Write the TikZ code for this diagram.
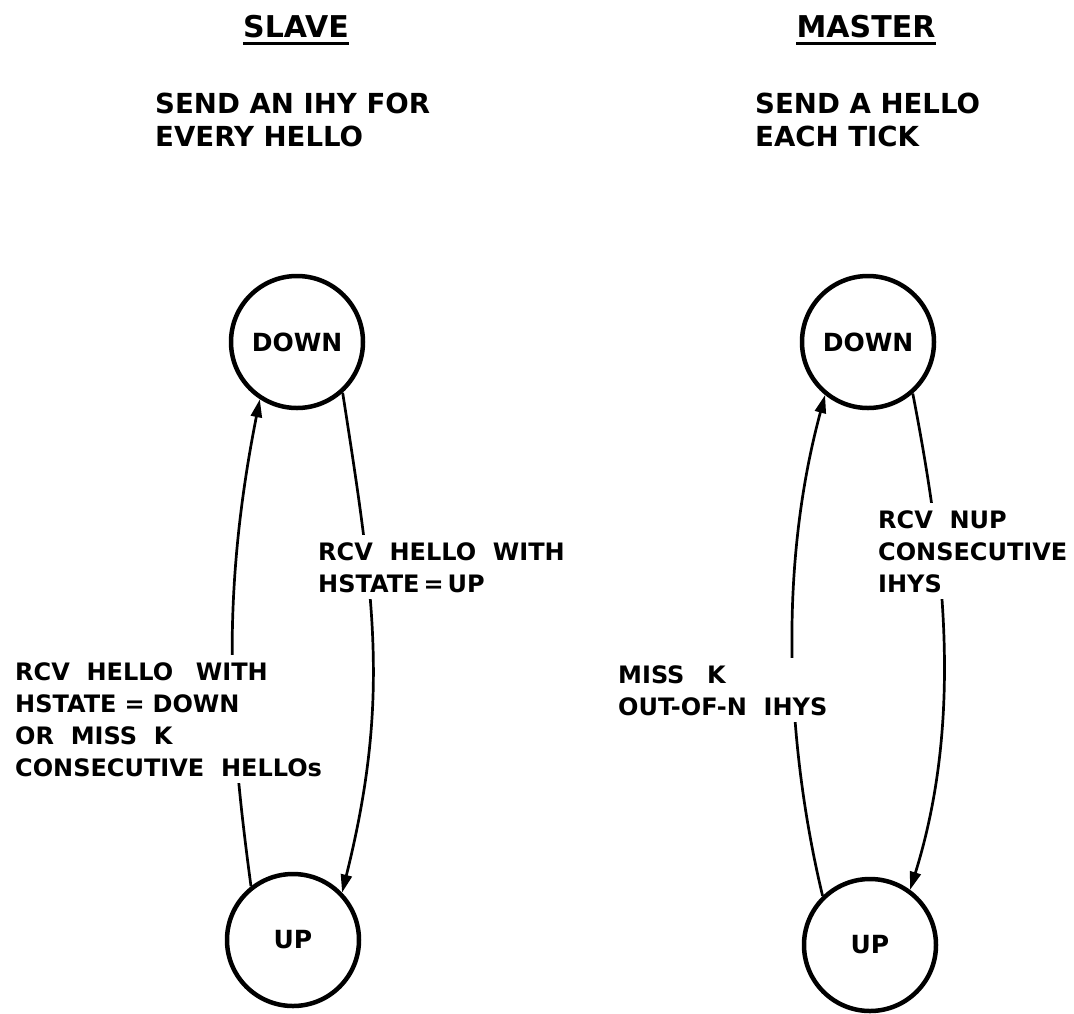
\documentclass[tikz,border=0pt]{standalone}
\usepackage{fontspec}
\setmainfont{DejaVu Sans}
\newfontfamily\labfont[WordSpace=2.0]{DejaVu Sans}
\usetikzlibrary{arrows.meta}
\begin{document}
\begin{tikzpicture}[x=1pt,y=-1pt,
  state/.style={circle,draw,line width=4.5pt,minimum size=132pt,inner sep=0pt,font=\fontsize{25}{30}\selectfont\bfseries},
  lbl/.style={anchor=north west,align=left,fill=white,inner sep=7pt,font=\labfont\fontsize{24}{32}\selectfont\bfseries},
  desc/.style={anchor=north west,align=left,inner sep=0pt,font=\fontsize{27.6}{33}\selectfont\bfseries},
  ttl/.style={anchor=base,inner sep=0pt,font=\fontsize{30}{36}\selectfont\bfseries},
  conn/.style={line width=2.7pt,-{Triangle[length=18pt,width=11pt]}}]
\useasboundingbox (0,0) rectangle (1074,1013);
\fill[white] (0,0) rectangle (1074,1013);
% states
\node[state] (sd) at (297,342) {DOWN};
\node[state] (su) at (293,940) {UP};
\node[state] (md) at (868,342) {DOWN};
\node[state] (mu) at (870,945) {UP};
% connectors
\draw[conn] (sd.312) .. controls (375,600) and (390,700) .. (su.44);
\draw[conn] (su.128) .. controls (230,730) and (220,600) .. (sd.237);
\draw[conn] (md.311) .. controls (945,560) and (963,720) .. (mu.54);
\draw[conn] (mu.134) .. controls (790,760) and (775,580) .. (md.231);
% labels
\node[lbl] (sl) at (8,655) {RCV HELLO\hspace{6pt} WITH\\HSTATE\hspace{8pt}=\hspace{8pt}DOWN\\OR MISS K\\CONSECUTIVE HELLOs};
\node[lbl] (sr) at (311,535) {RCV HELLO WITH\\HSTATE\,=\,UP};
\node[lbl] (mr) at (871,503) {RCV NUP\\CONSECUTIVE\\IHYS};
\node[lbl] (ml) at (611,658) {MISS\hspace{6pt} K\\OUT-OF-N IHYS};
% headings
\node[desc] (sdesc) at (155,93) {SEND AN IHY FOR\\EVERY HELLO};
\node[desc] (mdesc) at (755,93) {SEND A HELLO\\EACH TICK};
\node[ttl] (st) at (296,37) {SLAVE};
\node[ttl] (mt) at (866,37) {MASTER};
\draw[line width=3.5pt] ([yshift=-6pt]st.south west) -- ([yshift=-6pt]st.south east);
\draw[line width=3.5pt] ([yshift=-6pt]mt.south west) -- ([yshift=-6pt]mt.south east);
\end{tikzpicture}
\end{document}
